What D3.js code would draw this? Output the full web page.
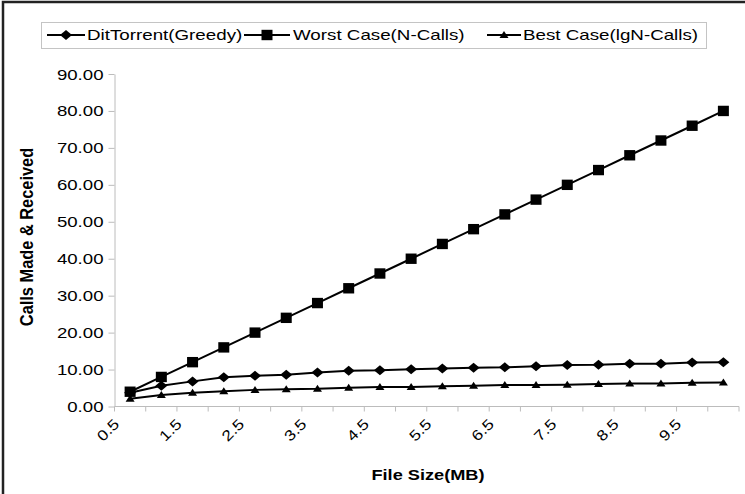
<!DOCTYPE html>
<html>
<head>
<meta charset="utf-8">
<script src="https://cdn.jsdelivr.net/npm/d3@7"></script>
<style>
    html, body { margin: 0; background: #fff; overflow: hidden; }
    svg { display: block; }
    svg text { font-family: "Liberation Sans", Arial, sans-serif; fill: #000; }
</style>
</head>
<body>
<div id="chart"></div>
<script>
// File sizes (MB) on the category axis, only every other one is labelled
const fileSizes = [0.5, 1.0, 1.5, 2.0, 2.5, 3.0, 3.5, 4.0, 4.5, 5.0,
                   5.5, 6.0, 6.5, 7.0, 7.5, 8.0, 8.5, 9.0, 9.5, 10.0];
const greedyCalls = [3.7, 5.6, 6.8, 7.9, 8.3, 8.6, 9.2, 9.7, 9.8, 10.1,
                     10.3, 10.5, 10.6, 10.9, 11.2, 11.3, 11.6, 11.6, 11.9, 12.0];
const worstCalls = [4, 8, 12, 16, 20, 24, 28, 32, 36, 40,
                    44, 48, 52, 56, 60, 64, 68, 72, 76, 80];
const bestCalls = [2.1, 3.1, 3.7, 4.1, 4.5, 4.7, 4.8, 5.1, 5.3, 5.3,
                   5.5, 5.6, 5.8, 5.8, 5.9, 6.1, 6.2, 6.2, 6.4, 6.5];
const yTicks = [0, 10, 20, 30, 40, 50, 60, 70, 80, 90];
const seriesNames = ["DitTorrent(Greedy)", "Worst Case(N-Calls)", "Best Case(lgN-Calls)"];

const width = 745;
const height = 494;
const stretch = 1.3; // text in the original is drawn wide

const svg = d3.select('#chart').append('svg')
    .attr('width', width)
    .attr('height', height);

// outer frame: only the top and left edges fall inside the picture
svg.append('path')
    .attr('d', `M3,${height} L3,2 L${width},2`)
    .attr('fill', 'none')
    .attr('stroke', '#222')
    .attr('stroke-width', 2.5);

const x = d3.scaleBand()
    .domain(fileSizes)
    .range([114.5, 739]);

const y = d3.scaleLinear()
    .domain([0, 90])
    .range([406.5, 74]);

const cx = d => x(d) + x.bandwidth() / 2;

// Markers shaped like the Excel ones
const markers = {
    diamond: 'M0,-5 L6,0 L0,5 L-6,0Z',
    square: 'M-5.5,-5.2 L5.5,-5.2 L5.5,5.2 L-5.5,5.2Z',
    triangle: 'M0,-4 L4.5,3 L-4.5,3Z'
};

const series = [
    { name: seriesNames[0], values: greedyCalls, marker: markers.diamond },
    { name: seriesNames[1], values: worstCalls, marker: markers.square },
    { name: seriesNames[2], values: bestCalls, marker: markers.triangle }
];

// Y axis
const yAxis = svg.append('g')
    .attr('transform', 'translate(114.5,0)')
    .call(d3.axisLeft(y).tickValues(yTicks).tickFormat(d3.format('.2f')).tickSize(6).tickSizeOuter(0));
yAxis.select('.domain').attr('stroke', '#bcbcbc');
yAxis.selectAll('.tick line').attr('stroke', '#bcbcbc');
yAxis.selectAll('.tick text')
    .attr('x', null)
    .attr('dy', '0.36em')
    .attr('font-size', 14)
    .attr('transform', `translate(-11,0) scale(1.33,1)`);

// X axis: line + tick marks between categories
const xAxis = svg.append('g');
xAxis.append('line')
    .attr('x1', x.range()[0]).attr('x2', x.range()[1])
    .attr('y1', y(0)).attr('y2', y(0))
    .attr('stroke', '#bcbcbc');

const boundaries = fileSizes.map(d => x(d)).concat([x.range()[1]]);
xAxis.selectAll('.xtick')
    .data(boundaries)
    .enter()
    .append('line')
    .attr('x1', d => d).attr('x2', d => d)
    .attr('y1', y(0)).attr('y2', y(0) + 5)
    .attr('stroke', '#bcbcbc');

xAxis.selectAll('.xlabel')
    .data(fileSizes.filter((d, i) => i % 2 === 0))
    .enter()
    .append('text')
    .attr('font-size', 14)
    .attr('text-anchor', 'end')
    .attr('transform', d => `translate(${cx(d) - 10},425) rotate(-45) scale(1.25,1.05)`)
    .text(d => d3.format('.1f')(d));

// Axis titles
svg.append('text')
    .attr('font-size', 14)
    .attr('font-weight', 'bold')
    .attr('text-anchor', 'middle')
    .attr('transform', `translate(428,480) scale(${stretch},1)`)
    .text('File Size(MB)');

svg.append('text')
    .attr('font-size', 14)
    .attr('font-weight', 'bold')
    .attr('text-anchor', 'middle')
    .attr('transform', 'translate(33,237) rotate(-90) scale(1.17,1.3)')
    .text('Calls Made & Received');

// Lines and markers
const line = d3.line()
    .x((v, i) => cx(fileSizes[i]))
    .y(v => y(v));

series.forEach(s => {
    svg.append('path')
        .datum(s.values)
        .attr('d', line)
        .attr('fill', 'none')
        .attr('stroke', '#000')
        .attr('stroke-width', 2);

    svg.append('g')
        .selectAll('path')
        .data(s.values)
        .enter()
        .append('path')
        .attr('d', s.marker)
        .attr('transform', (v, i) => `translate(${cx(fileSizes[i])},${y(v)})`)
        .attr('fill', '#000');
});

// Legend
const legend = svg.append('g');
legend.append('rect')
    .attr('x', 41.5).attr('y', 22.5)
    .attr('width', 665).attr('height', 26)
    .attr('fill', '#fff')
    .attr('stroke', '#c4c4c4');

const legendPos = [
    { x1: 47, x2: 85, tx: 87 },
    { x1: 244, x2: 290, tx: 293 },
    { x1: 487, x2: 521, tx: 523 }
];

series.forEach((s, i) => {
    const p = legendPos[i];
    legend.append('line')
        .attr('x1', p.x1).attr('x2', p.x2)
        .attr('y1', 35).attr('y2', 35)
        .attr('stroke', '#000')
        .attr('stroke-width', 2);
    legend.append('path')
        .attr('d', s.marker)
        .attr('transform', `translate(${(p.x1 + p.x2) / 2},35)`)
        .attr('fill', '#000');
    legend.append('text')
        .attr('font-size', 14)
        .attr('transform', `translate(${p.tx},40) scale(1.34,1)`)
        .text(s.name);
});
</script>
</body>
</html>
